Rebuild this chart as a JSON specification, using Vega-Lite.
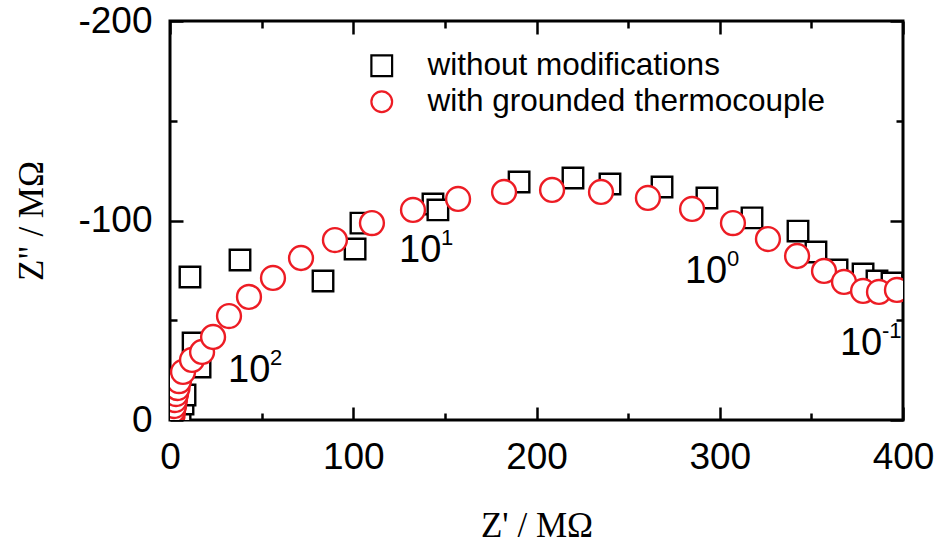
{
  "$schema": "https://vega.github.io/schema/vega-lite/v6.json",
  "width": 733,
  "height": 399,
  "autosize": {"type": "none"},
  "padding": {"left": 170, "top": 21, "right": 37, "bottom": 132},
  "background": "white",
  "datasets": {
    "impedance": [
      {"series": "without modifications", "Zre": 3.3, "Zim": -2.0},
      {"series": "without modifications", "Zre": 5.5, "Zim": -4.5},
      {"series": "without modifications", "Zre": 7.1, "Zim": -8.0},
      {"series": "without modifications", "Zre": 8.2, "Zim": -12.5},
      {"series": "without modifications", "Zre": 16.4, "Zim": -26.6},
      {"series": "without modifications", "Zre": 12.6, "Zim": -38.6},
      {"series": "without modifications", "Zre": 10.9, "Zim": -71.7},
      {"series": "without modifications", "Zre": 38.2, "Zim": -80.2},
      {"series": "without modifications", "Zre": 83.5, "Zim": -69.7},
      {"series": "without modifications", "Zre": 101.0, "Zim": -85.7},
      {"series": "without modifications", "Zre": 104.2, "Zim": -98.7},
      {"series": "without modifications", "Zre": 143.5, "Zim": -108.3},
      {"series": "without modifications", "Zre": 146.2, "Zim": -105.3},
      {"series": "without modifications", "Zre": 190.5, "Zim": -119.3},
      {"series": "without modifications", "Zre": 219.9, "Zim": -121.3},
      {"series": "without modifications", "Zre": 240.1, "Zim": -118.3},
      {"series": "without modifications", "Zre": 268.5, "Zim": -116.8},
      {"series": "without modifications", "Zre": 293.0, "Zim": -111.3},
      {"series": "without modifications", "Zre": 317.6, "Zim": -101.3},
      {"series": "without modifications", "Zre": 342.7, "Zim": -94.7},
      {"series": "without modifications", "Zre": 352.5, "Zim": -84.2},
      {"series": "without modifications", "Zre": 364.0, "Zim": -75.2},
      {"series": "without modifications", "Zre": 378.2, "Zim": -73.2},
      {"series": "without modifications", "Zre": 385.8, "Zim": -69.7},
      {"series": "without modifications", "Zre": 394.0, "Zim": -68.7},
      {"series": "with grounded thermocouple", "Zre": 1.1, "Zim": -1.0},
      {"series": "with grounded thermocouple", "Zre": 1.4, "Zim": -2.5},
      {"series": "with grounded thermocouple", "Zre": 1.6, "Zim": -4.5},
      {"series": "with grounded thermocouple", "Zre": 2.2, "Zim": -7.0},
      {"series": "with grounded thermocouple", "Zre": 2.7, "Zim": -10.0},
      {"series": "with grounded thermocouple", "Zre": 3.3, "Zim": -13.0},
      {"series": "with grounded thermocouple", "Zre": 4.1, "Zim": -16.0},
      {"series": "with grounded thermocouple", "Zre": 4.9, "Zim": -19.5},
      {"series": "with grounded thermocouple", "Zre": 7.1, "Zim": -24.1},
      {"series": "with grounded thermocouple", "Zre": 12.0, "Zim": -30.1},
      {"series": "with grounded thermocouple", "Zre": 17.5, "Zim": -34.1},
      {"series": "with grounded thermocouple", "Zre": 23.5, "Zim": -41.6},
      {"series": "with grounded thermocouple", "Zre": 32.2, "Zim": -52.1},
      {"series": "with grounded thermocouple", "Zre": 43.1, "Zim": -61.7},
      {"series": "with grounded thermocouple", "Zre": 56.2, "Zim": -71.2},
      {"series": "with grounded thermocouple", "Zre": 71.5, "Zim": -81.2},
      {"series": "with grounded thermocouple", "Zre": 90.0, "Zim": -90.2},
      {"series": "with grounded thermocouple", "Zre": 110.2, "Zim": -98.7},
      {"series": "with grounded thermocouple", "Zre": 132.6, "Zim": -105.3},
      {"series": "with grounded thermocouple", "Zre": 157.2, "Zim": -110.8},
      {"series": "with grounded thermocouple", "Zre": 182.3, "Zim": -114.3},
      {"series": "with grounded thermocouple", "Zre": 208.5, "Zim": -115.3},
      {"series": "with grounded thermocouple", "Zre": 235.2, "Zim": -114.3},
      {"series": "with grounded thermocouple", "Zre": 260.8, "Zim": -111.3},
      {"series": "with grounded thermocouple", "Zre": 284.9, "Zim": -105.8},
      {"series": "with grounded thermocouple", "Zre": 307.2, "Zim": -98.7},
      {"series": "with grounded thermocouple", "Zre": 326.3, "Zim": -90.7},
      {"series": "with grounded thermocouple", "Zre": 342.2, "Zim": -82.2},
      {"series": "with grounded thermocouple", "Zre": 356.9, "Zim": -74.7},
      {"series": "with grounded thermocouple", "Zre": 367.8, "Zim": -69.2},
      {"series": "with grounded thermocouple", "Zre": 378.2, "Zim": -64.7},
      {"series": "with grounded thermocouple", "Zre": 386.9, "Zim": -64.2},
      {"series": "with grounded thermocouple", "Zre": 396.7, "Zim": -65.2}
    ],
    "frequency": [
      {"Zre": 31.7, "Zim": -19.0, "base": "10", "exp": "2"},
      {"Zre": 125.0, "Zim": -79.2, "base": "10", "exp": "1"},
      {"Zre": 281.0, "Zim": -68.7, "base": "10", "exp": "0"},
      {"Zre": 365.6, "Zim": -32.6, "base": "10", "exp": "-1"}
    ]
  },
  "config": {
    "view": {"stroke": "black", "strokeWidth": 3},
    "axis": {
      "grid": false,
      "domain": false,
      "labelFlush": false,
      "labelOverlap": false,
      "tickColor": "black",
      "tickWidth": 2.5,
      "labelFont": "Liberation Sans",
      "labelFontSize": 37,
      "labelColor": "black",
      "titleFont": "Liberation Serif",
      "titleFontSize": 35,
      "titleFontWeight": "normal",
      "titleColor": "black"
    },
    "legend": {
      "orient": "none",
      "legendX": 196,
      "legendY": 29,
      "padding": 0,
      "labelFont": "Liberation Sans",
      "labelFontSize": 31.5,
      "labelColor": "black",
      "labelLimit": 0,
      "labelOffset": 30,
      "rowPadding": 3,
      "symbolSize": 430,
      "symbolStrokeWidth": 2.2,
      "symbolFillColor": "white"
    }
  },
  "resolve": {"axis": {"x": "independent", "y": "independent"}},
  "layer": [
    {
      "data": {"name": "impedance"},
      "transform": [{"filter": "datum.series === 'without modifications'"}],
      "mark": {"type": "point", "filled": true, "fill": "white", "opacity": 1, "strokeWidth": 2.4, "size": 420, "clip": true},
      "encoding": {
        "x": {
          "field": "Zre", "type": "quantitative",
          "scale": {"domain": [0, 400], "nice": false, "zero": false},
          "axis": {"orient": "bottom", "values": [0, 100, 200, 300, 400], "tickSize": -13, "labelPadding": 32, "title": "Z' / MΩ", "titlePadding": 33}
        },
        "y": {
          "field": "Zim", "type": "quantitative",
          "scale": {"domain": [0, -200], "nice": false, "zero": false},
          "axis": {"orient": "left", "values": [0, -100, -200], "tickSize": -13, "labelPadding": 31, "labelExpr": "'' + datum.value", "title": "Z\" / MΩ", "titlePadding": 28}
        },
        "shape": {
          "field": "series", "type": "nominal",
          "scale": {"domain": ["without modifications", "with grounded thermocouple"], "range": ["square", "circle"]},
          "legend": {"title": null}
        },
        "stroke": {
          "field": "series", "type": "nominal",
          "scale": {"domain": ["without modifications", "with grounded thermocouple"], "range": ["black", "#ed1c24"]},
          "legend": {"title": null}
        }
      }
    },
    {
      "data": {"name": "impedance"},
      "transform": [{"filter": "datum.series === 'with grounded thermocouple'"}],
      "mark": {"type": "point", "filled": true, "fill": "white", "opacity": 1, "strokeWidth": 2.4, "size": 570, "clip": true},
      "encoding": {
        "x": {
          "field": "Zre", "type": "quantitative",
          "axis": {"orient": "bottom", "values": [50, 150, 250, 350], "tickSize": -7, "labels": false, "title": null}
        },
        "y": {
          "field": "Zim", "type": "quantitative",
          "axis": {"orient": "left", "values": [-50, -150], "tickSize": -7, "labels": false, "title": null}
        },
        "shape": {"field": "series", "type": "nominal"},
        "stroke": {"field": "series", "type": "nominal"}
      }
    },
    {
      "data": {"name": "frequency"},
      "mark": {"type": "text", "font": "Liberation Sans", "fontSize": 38, "align": "left", "baseline": "alphabetic", "color": "black"},
      "encoding": {
        "x": {
          "field": "Zre", "type": "quantitative",
          "axis": {"orient": "top", "values": [0, 100, 200, 300, 400], "tickSize": -13, "labels": false, "title": null}
        },
        "y": {
          "field": "Zim", "type": "quantitative",
          "axis": {"orient": "right", "values": [0, -100, -200], "tickSize": -13, "labels": false, "title": null}
        },
        "text": {"field": "base"}
      }
    },
    {
      "data": {"name": "frequency"},
      "mark": {"type": "text", "font": "Liberation Sans", "fontSize": 22, "align": "left", "baseline": "alphabetic", "dx": 42, "dy": -17, "color": "black"},
      "encoding": {
        "x": {
          "field": "Zre", "type": "quantitative",
          "axis": {"orient": "top", "values": [50, 150, 250, 350], "tickSize": -7, "labels": false, "title": null}
        },
        "y": {
          "field": "Zim", "type": "quantitative",
          "axis": {"orient": "right", "values": [-50, -150], "tickSize": -7, "labels": false, "title": null}
        },
        "text": {"field": "exp"}
      }
    }
  ]
}
